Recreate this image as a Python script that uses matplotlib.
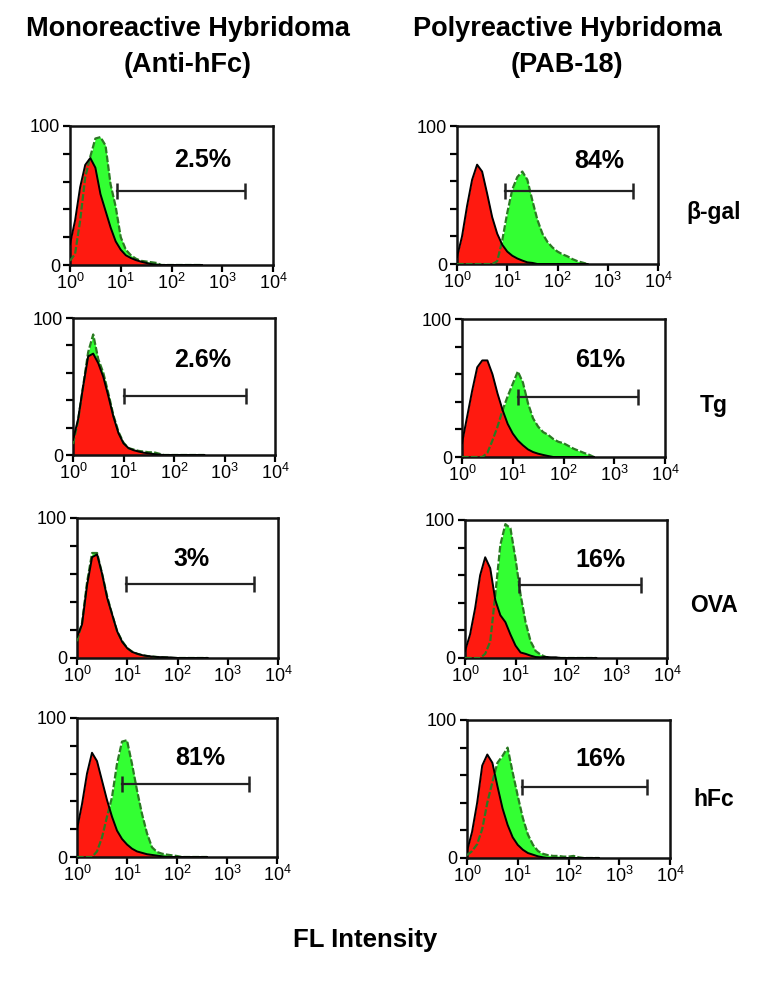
import numpy as np
import matplotlib
matplotlib.use("Agg")
import matplotlib.pyplot as plt

plt.rcParams['font.family'] = ['Liberation Sans', 'DejaVu Sans']
plt.rcParams['mathtext.fontset'] = 'custom'
plt.rcParams['mathtext.rm'] = 'Liberation Sans'
plt.rcParams['mathtext.it'] = 'Liberation Sans'
plt.rcParams['mathtext.bf'] = 'Liberation Sans:bold'

# ---------------- data ----------------
col_titles = ["Monoreactive Hybridoma\n(Anti-hFc)", "Polyreactive Hybridoma\n(PAB-18)"]
row_labels = ["\u03b2-gal", "Tg", "OVA", "hFc"]
x_tick_labels = ["$10^0$", "$10^1$", "$10^2$", "$10^3$", "$10^4$"]
x_label = "FL Intensity"

# channel positions (log10 of FL intensity)
fl_log = [0.0, 0.1, 0.2, 0.3, 0.4, 0.5, 0.6, 0.7, 0.8, 0.9, 1.0, 1.1, 1.2, 1.3,
          1.4, 1.5, 1.6, 1.7, 1.8, 1.9, 2.0, 2.1, 2.2, 2.3, 2.4, 2.5, 2.6]

# control (red) histograms, monoreactive column
mono_bgal_red = [15, 32, 56, 72, 77, 70, 51, 39, 27, 17, 11, 7, 5, 3.5, 2.4, 1.5, 0.7, 0.3, 0, 0, 0, 0, 0, 0, 0, 0, 0]
mono_tg_red   = [11, 26, 50, 72, 74, 67, 57, 43, 28, 16, 8.5, 5, 3.5, 2.5, 1.7, 1.2, 0.7, 0.3, 0, 0, 0, 0, 0, 0, 0, 0, 0]
mono_ova_red  = [15, 24, 52, 72, 74, 60, 43, 31, 19, 11.5, 7, 4.3, 3, 2, 1.4, 1, 0.7, 0.6, 0.5, 0.3, 0, 0, 0, 0, 0, 0, 0]
mono_hfc_red  = [20, 38, 60, 75, 69, 55, 41, 29, 19, 13, 9, 6, 4, 3, 2, 1.5, 1, 0.5, 0, 0, 0, 0, 0, 0, 0, 0, 0]
# antigen-stained (green) histograms, monoreactive column
mono_bgal_green = [3, 8, 32, 63, 78, 91, 92, 86, 58, 42, 20, 11, 7, 4.5, 3, 2.5, 2, 1.5, 0, 0, 0, 0, 0, 0, 0, 0, 0]
mono_tg_green   = [8, 25, 50, 75, 88, 70, 60, 45, 29, 17, 9, 5, 4, 3, 2.5, 2, 2, 1, 0, 0, 0, 0, 0, 0, 0, 0, 0]
mono_ova_green  = [12, 25, 54, 75, 75, 60, 44, 31, 19, 12, 7, 4.5, 3, 2, 1.4, 1, 0.7, 0.5, 0.3, 0, 0, 0, 0, 0, 0, 0, 0]
mono_hfc_green  = [0, 0, 0, 0, 4, 14, 29, 43, 67, 83, 84, 67, 48, 31, 17, 7, 3.6, 2.4, 1.7, 1.2, 0.7, 0, 0, 0, 0, 0, 0]
# control (red) histograms, polyreactive column
poly_bgal_red = [5, 20, 42, 61, 72, 67, 51, 34, 22, 14, 9, 6, 4, 2.5, 1.2, 0.8, 0, 0, 0, 0, 0, 0, 0, 0, 0, 0, 0]
poly_tg_red   = [10, 29, 48, 65, 70, 70, 60, 46, 34, 24, 17, 12, 8.5, 5.5, 3.6, 2.4, 1.5, 0.7, 0, 0, 0, 0, 0, 0, 0, 0, 0]
poly_ova_red  = [5, 17, 36, 60, 73, 65, 42, 31, 26, 17, 9, 4, 3, 1.7, 0.7, 0.5, 0.8, 0.5, 0.5, 0, 0, 0, 0, 0, 0, 0, 0]
poly_hfc_red  = [5, 19, 40, 67, 75, 69, 52, 36, 24, 15, 9.5, 6, 3.6, 2.4, 1.2, 0.5, 0, 0, 0, 0, 0, 0, 0, 0, 0, 0, 0]
# antigen-stained (green) histograms, polyreactive column
poly_bgal_green = [0, 0, 0, 0, 0, 0, 0, 0, 2, 17, 37, 54, 63, 67, 61, 46, 32, 22, 16, 12, 9, 7, 5.5, 3.5, 2, 1, 0]
poly_tg_green   = [0, 0, 0, 0, 0, 3, 12, 22, 34, 44, 53, 62, 54, 39, 28, 22, 18, 16, 13, 11, 10, 8, 6, 4.5, 3, 1.7, 0]
poly_ova_green  = [0, 0, 0, 0, 3, 12, 46, 82, 97, 94, 72, 46, 26, 12, 5, 2.4, 0.7, 0, 0, 0, 0, 0, 0, 0, 0, 0, 0]
poly_hfc_green  = [2, 5, 10, 21, 40, 55, 69, 74, 80, 62, 45, 29, 17, 9.5, 5, 3, 2, 1.5, 1.5, 1, 1, 1.5, 0.5, 0, 0, 0, 0]

# percent positive and gate markers (start, end, height)
mono_pct = ["2.5%", "2.6%", "3%", "81%"]
poly_pct = ["84%", "61%", "16%", "16%"]
mono_gate_start = [8.4, 10, 9.4, 8]
mono_gate_end   = [2800, 2700, 3300, 2750]
mono_gate_y     = [53, 43, 53, 52.5]
poly_gate_start = [9, 12.6, 12, 12]
poly_gate_end   = [3200, 2950, 3100, 3500]
poly_gate_y     = [53, 43.5, 53, 51.5]

mono_red = [mono_bgal_red, mono_tg_red, mono_ova_red, mono_hfc_red]
mono_green = [mono_bgal_green, mono_tg_green, mono_ova_green, mono_hfc_green]
poly_red = [poly_bgal_red, poly_tg_red, poly_ova_red, poly_hfc_red]
poly_green = [poly_bgal_green, poly_tg_green, poly_ova_green, poly_hfc_green]

# ---------------- layout (pixel boxes) ----------------
W, H = 778, 991
fig = plt.figure(figsize=(W / 100, H / 100), dpi=100)

boxes = {
    (0, 0): (70, 273, 126, 265), (0, 1): (457, 658, 126, 264),
    (1, 0): (73, 275, 318, 455), (1, 1): (462, 665, 319, 457),
    (2, 0): (77, 278, 518, 658), (2, 1): (465, 667, 520, 658),
    (3, 0): (77, 277, 718, 857), (3, 1): (467, 670, 720, 858),
}
pct_pos = {
    (0, 0): (0.655, 0.755), (0, 1): (0.71, 0.75),
    (1, 0): (0.64, 0.69), (1, 1): (0.68, 0.70),
    (2, 0): (0.57, 0.71), (2, 1): (0.67, 0.71),
    (3, 0): (0.615, 0.71), (3, 1): (0.655, 0.72),
}

x = 10 ** np.array(fl_log)
red_fc = '#ff1a10'
green_fc = '#33ff33'
green_ec = '#2a7a22'

for r in range(4):
    for c in range(2):
        x0, x1, y0, y1 = boxes[(r, c)]
        ax = fig.add_axes([x0 / W, 1 - y1 / H, (x1 - x0) / W, (y1 - y0) / H])
        red = mono_red[r] if c == 0 else poly_red[r]
        green = mono_green[r] if c == 0 else poly_green[r]
        ax.fill_between(x, 0, green, color=green_fc, lw=0, zorder=1)
        ax.fill_between(x, 0, red, color=red_fc, lw=0, zorder=2)
        ax.plot(x, green, color=green_ec, lw=1.6, ls=(0, (3, 1)), zorder=3)
        ax.plot(x, red, color='black', lw=1.4, zorder=4)

        gs = mono_gate_start[r] if c == 0 else poly_gate_start[r]
        ge = mono_gate_end[r] if c == 0 else poly_gate_end[r]
        gy = mono_gate_y[r] if c == 0 else poly_gate_y[r]
        ax.plot([gs, ge], [gy, gy], color='#222222', lw=1.6, zorder=5)
        ax.plot([gs, ge], [gy, gy], ls='none', marker='|', markersize=11,
                mew=1.8, color='#222222', zorder=5)

        pct = mono_pct[r] if c == 0 else poly_pct[r]
        px, py = pct_pos[(r, c)]
        ax.text(px, py, pct, transform=ax.transAxes, ha='center', va='center',
                fontsize=18, fontweight='bold', color='black')

        ax.set_xscale('log')
        ax.set_xlim(1, 10000)
        ax.set_ylim(0, 100)
        ax.set_xticks([1, 10, 100, 1000, 10000])
        ax.set_xticklabels(x_tick_labels)
        ax.xaxis.set_minor_locator(matplotlib.ticker.NullLocator())
        ax.set_yticks([0, 20, 40, 60, 80, 100])
        ax.set_yticklabels(['0', '', '', '', '', '100'])
        ax.tick_params(axis='both', direction='out', length=5, width=1.6,
                       labelsize=13, pad=2, colors='black')
        ax.tick_params(axis='x', labelsize=13, pad=1)
        for s in ax.spines.values():
            s.set_linewidth(1.8)
            s.set_color('#111111')

# column titles
fig.text(188 / W, 1 - 47 / H, col_titles[0], ha='center', va='center',
         fontsize=19.5, fontweight='bold', linespacing=1.5)
fig.text(567 / W, 1 - 47 / H, col_titles[1], ha='center', va='center',
         fontsize=19.5, fontweight='bold', linespacing=1.5)

# row labels
row_y = [213, 405, 605, 800]
for lab, yy in zip(row_labels, row_y):
    fig.text(714 / W, 1 - yy / H, lab, ha='center', va='center',
             fontsize=16.5, fontweight='bold')

fig.text(365 / W, 1 - 940 / H, x_label, ha='center', va='center',
         fontsize=18.5, fontweight='bold')

fig.savefig('out.png', dpi=100, facecolor='white')
